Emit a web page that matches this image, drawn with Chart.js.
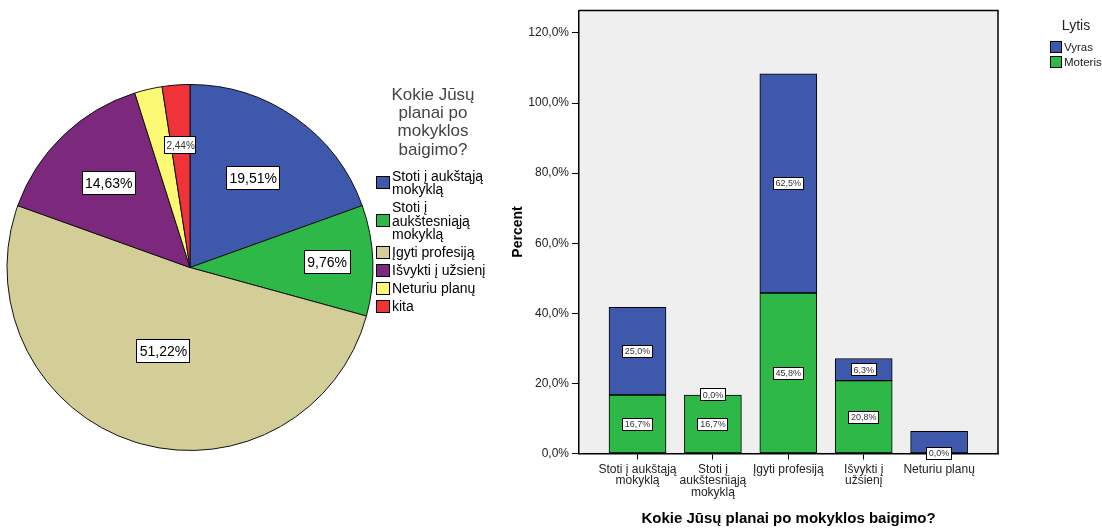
<!DOCTYPE html>
<html><head><meta charset="utf-8">
<script src="https://cdn.jsdelivr.net/npm/chart.js@4"></script>
<style>
html,body{margin:0;padding:0;background:#fff;width:1102px;height:530px;overflow:hidden}
#pieWrap{position:absolute;left:0;top:0;width:500px;height:530px}
#barWrap{position:absolute;left:500px;top:0;width:602px;height:530px}
canvas{display:block}
</style></head><body>
<div id="pieWrap"><canvas id="pie" width="500" height="530"></canvas></div>
<div id="barWrap"><canvas id="bar" width="602" height="530"></canvas></div>
<script>
// ---------- data ----------
const pieCategories = ['Stoti į aukštąją mokyklą', 'Stoti į aukštesniąją mokyklą', 'Įgyti profesiją', 'Išvykti į užsienį', 'Neturiu planų', 'kita'];
const piePercent = [19.51, 9.76, 51.22, 14.63, 2.44, 2.44];
const pieLegendLines = [['Stoti į aukštąją', 'mokyklą'], ['Stoti į', 'aukštesniąją', 'mokyklą'], ['Įgyti profesiją'], ['Išvykti į užsienį'], ['Neturiu planų'], ['kita']];
const pieTitleLines = ['Kokie Jūsų', 'planai po', 'mokyklos', 'baigimo?'];

const barCategories = [['Stoti į aukštąją', 'mokyklą'], ['Stoti į', 'aukštesniąją', 'mokyklą'], 'Įgyti profesiją', ['Išvykti į', 'užsienį'], 'Neturiu planų'];
const seriesNames = ['Vyras', 'Moteris'];
const vyras = [25.0, 0.0, 62.5, 6.3, 6.3];
const moteris = [16.7, 16.7, 45.8, 20.8, 0.0];
const yTickValues = [0, 20, 40, 60, 80, 100, 120];
const xAxisTitle = 'Kokie Jūsų planai po mokyklos baigimo?';
const yAxisTitle = 'Percent';
const legendTitle = 'Lytis';

// ---------- style ----------
const FONT = 'Arial, "Liberation Sans", sans-serif';
Chart.defaults.font.family = FONT;
const pieColors = ['#3E58AC', '#2EB848', '#D3CE97', '#7C287D', '#FBF873', '#EF3338'];
const colVyras = '#3E58AC', colMoteris = '#2EB848';
function fmt(v, d) { return v.toFixed(d).replace('.', ',') + '%'; }

// ---------- pie ----------
const pieLabelRadius = [0.6, 0.75, 0.48, 0.64, null, 0.67];
const pieLabelSize = [14, 14, 14, 14, 10, 10];
const pieLabelsPlugin = {
  id: 'pieLabels',
  afterDatasetsDraw(chart) {
    const ctx = chart.ctx;
    const meta = chart.getDatasetMeta(0);
    ctx.save();
    meta.data.forEach((arc, i) => {
      const f = pieLabelRadius[i];
      if (f == null) return;
      const p = arc.getProps(['x', 'y', 'startAngle', 'endAngle', 'outerRadius'], true);
      const mid = (p.startAngle + p.endAngle) / 2;
      const cx = p.x + Math.cos(mid) * p.outerRadius * f;
      const cy = p.y + Math.sin(mid) * p.outerRadius * f;
      const size = pieLabelSize[i];
      const text = fmt(piePercent[i], 2);
      ctx.font = size + 'px ' + FONT;
      const padX = size > 12 ? 3.5 : 2;
      const w = ctx.measureText(text).width + padX * 2;
      const h = size > 12 ? size + 10 : size + 8;
      ctx.fillStyle = '#fff';
      ctx.fillRect(Math.round(cx - w / 2), Math.round(cy - h / 2), Math.round(w), Math.round(h));
      ctx.strokeStyle = '#000';
      ctx.lineWidth = 1;
      ctx.strokeRect(Math.round(cx - w / 2) + 0.5, Math.round(cy - h / 2) + 0.5, Math.round(w) - 1, Math.round(h) - 1);
      ctx.fillStyle = size > 12 ? '#000' : '#333';
      ctx.textAlign = 'center';
      ctx.textBaseline = 'middle';
      ctx.fillText(text, cx, cy + 1);
    });
    ctx.restore();
  }
};
const pieLegendPlugin = {
  id: 'pieLegend',
  afterDraw(chart) {
    const ctx = chart.ctx;
    ctx.save();
    ctx.textAlign = 'center';
    ctx.textBaseline = 'middle';
    ctx.fillStyle = '#444';
    ctx.font = '17px ' + FONT;
    pieTitleLines.forEach((t, k) => ctx.fillText(t, 433, 95 + k * 18.3));
    ctx.font = '14px ' + FONT;
    ctx.textAlign = 'left';
    let y = 177;
    pieLegendLines.forEach((lines, i) => {
      const mid = y + (lines.length - 1) * 13.5 / 2;
      const by = Math.round(mid - 8);
      ctx.fillStyle = pieColors[i];
      ctx.fillRect(376, by, 14, 13);
      ctx.strokeStyle = '#000';
      ctx.lineWidth = 1;
      ctx.strokeRect(376.5, by + 0.5, 13, 12);
      ctx.fillStyle = '#000';
      lines.forEach((t, k) => ctx.fillText(t, 392, y + k * 13.5));
      y += (lines.length - 1) * 13.5 + 18;
    });
    ctx.restore();
  }
};
new Chart(document.getElementById('pie'), {
  type: 'pie',
  data: { labels: pieCategories, datasets: [{ data: piePercent, backgroundColor: pieColors, borderColor: '#111', borderWidth: 1 }] },
  options: {
    responsive: false, animation: false,
    layout: { padding: { left: 6.5, right: 126.5, top: 84, bottom: 79 } },
    plugins: { legend: { display: false }, tooltip: { enabled: false } }
  },
  plugins: [pieLabelsPlugin, pieLegendPlugin]
});

// ---------- bar ----------
const plotFramePlugin = {
  id: 'plotFrame',
  beforeDraw(chart) {
    const { ctx, chartArea: a } = chart;
    ctx.save();
    ctx.fillStyle = '#EFEFEF';
    ctx.fillRect(a.left, a.top, a.right - a.left, a.bottom - a.top);
    ctx.restore();
  },
  afterDraw(chart) {
    const { ctx, chartArea: a } = chart;
    ctx.save();
    ctx.strokeStyle = '#000';
    ctx.lineWidth = 1.5;
    ctx.beginPath();
    ctx.moveTo(a.left, a.top);
    ctx.lineTo(a.right, a.top);
    ctx.lineTo(a.right, a.bottom);
    ctx.stroke();
    ctx.restore();
  }
};
const barLabelsPlugin = {
  id: 'barLabels',
  afterDatasetsDraw(chart) {
    const ctx = chart.ctx;
    const xs = chart.scales.x, ys = chart.scales.y;
    const drawn = [];
    ctx.save();
    ctx.font = '9px ' + FONT;
    ctx.textAlign = 'center';
    ctx.textBaseline = 'middle';
    const series = [moteris, vyras];
    series.forEach((vals, d) => {
      vals.forEach((v, i) => {
        const base = d === 0 ? 0 : moteris[i];
        const cy = ys.getPixelForValue(base + v / 2);
        const cx = xs.getPixelForValue(i);
        const text = fmt(v, 1);
        const w = Math.round(ctx.measureText(text).width + 5);
        const h = 13;
        const box = { l: cx - w / 2, r: cx + w / 2, t: cy - h / 2, b: cy + h / 2 };
        if (drawn.some(o => !(box.r < o.l || box.l > o.r || box.b < o.t || box.t > o.b))) return;
        drawn.push(box);
        const l = Math.round(box.l), t = Math.round(box.t);
        ctx.fillStyle = '#fff';
        ctx.fillRect(l, t, w, h);
        ctx.strokeStyle = '#000';
        ctx.lineWidth = 1;
        ctx.strokeRect(l + 0.5, t + 0.5, w - 1, h - 1);
        ctx.fillStyle = '#333';
        ctx.fillText(text, cx, cy + 0.5);
      });
    });
    ctx.restore();
  }
};
const lytisLegendPlugin = {
  id: 'lytisLegend',
  afterDraw(chart) {
    const ctx = chart.ctx;
    ctx.save();
    ctx.textBaseline = 'middle';
    ctx.textAlign = 'center';
    ctx.fillStyle = '#222';
    ctx.font = '14px ' + FONT;
    ctx.fillText(legendTitle, 576, 26);
    ctx.textAlign = 'left';
    ctx.font = '11.5px ' + FONT;
    const cols = [colVyras, colMoteris];
    seriesNames.forEach((n, i) => {
      const y = 41 + i * 15;
      ctx.fillStyle = cols[i];
      ctx.fillRect(550, y, 12, 12);
      ctx.strokeStyle = '#000';
      ctx.lineWidth = 1;
      ctx.strokeRect(550.5, y + 0.5, 11, 11);
      ctx.fillStyle = '#222';
      ctx.fillText(n, 564, y + 6.5);
    });
    ctx.restore();
  }
};
const barCommon = { borderColor: '#000', borderWidth: 1, borderSkipped: false, barThickness: 57 };
new Chart(document.getElementById('bar'), {
  type: 'bar',
  data: {
    datasets: [
      Object.assign({ label: seriesNames[1], data: moteris.map((v, i) => ({ x: i, y: v })), backgroundColor: colMoteris }, barCommon),
      Object.assign({ label: seriesNames[0], data: vyras.map((v, i) => ({ x: i, y: v })), backgroundColor: colVyras }, barCommon)
    ]
  },
  options: {
    responsive: false, animation: false,
    layout: { padding: { left: 0, top: 10.5, right: 104, bottom: 0 } },
    plugins: { legend: { display: false }, tooltip: { enabled: false } },
    scales: {
      x: {
        type: 'linear', min: -0.776, max: 4.781, stacked: true, offset: false,
        afterBuildTicks: s => { s.ticks = barCategories.map((c, i) => ({ value: i })); },
        afterFit: s => { s.height = 76.5; },
        ticks: { callback: v => barCategories[v], color: '#222', font: { size: 12, lineHeight: 0.96 }, padding: 4, maxRotation: 0, autoSkip: false },
        grid: { drawOnChartArea: false, offset: false, tickLength: 6, color: '#000', lineWidth: 1 },
        border: { color: '#000', width: 1.5 },
        title: { display: true, text: xAxisTitle, color: '#000', font: { size: 15, weight: 'bold' }, padding: { top: 0, bottom: 2.6 } }
      },
      y: {
        stacked: true, min: 0, max: 126.4,
        afterBuildTicks: s => { s.ticks = yTickValues.map(v => ({ value: v })); },
        afterFit: s => { s.width = 79; },
        ticks: { callback: v => fmt(v, 1), color: '#222', font: { size: 12 }, padding: 3 },
        grid: { drawOnChartArea: false, tickLength: 7, color: '#000', lineWidth: 1 },
        border: { color: '#000', width: 1.5 },
        title: { display: true, text: yAxisTitle, color: '#000', font: { size: 14, weight: 'bold' }, padding: { top: 9.6, bottom: 0 } }
      }
    }
  },
  plugins: [plotFramePlugin, barLabelsPlugin, lytisLegendPlugin]
});
</script>
</body></html>
